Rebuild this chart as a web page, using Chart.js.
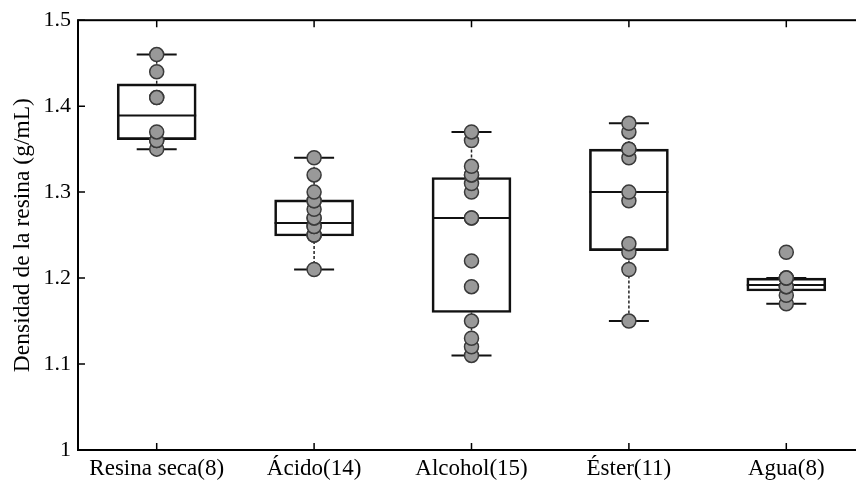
<!DOCTYPE html>
<html>
<head>
<meta charset="utf-8">
<script src="https://cdn.jsdelivr.net/npm/chart.js@4/dist/chart.umd.min.js"></script>
<style>
  html, body { margin: 0; padding: 0; background: #fff; overflow: hidden; }
  #wrap { position: relative; width: 856px; height: 483px; overflow: hidden; }
  #boxChart { position: absolute; left: 0; top: 0; }
</style>
</head>
<body>
<div id="wrap"><canvas id="boxChart" width="880" height="483"></canvas></div>
<script>
// groups and measured densities (g/mL)
var categories = ['Resina seca(8)', 'Ácido(14)', 'Alcohol(15)', 'Éster(11)', 'Agua(8)'];
var resinaSeca = [1.35, 1.36, 1.36, 1.37, 1.41, 1.41, 1.44, 1.46];
var acido = [1.21, 1.25, 1.25, 1.25, 1.26, 1.26, 1.27, 1.27, 1.28, 1.29, 1.29, 1.30, 1.32, 1.34];
var alcohol = [1.11, 1.12, 1.13, 1.15, 1.19, 1.22, 1.27, 1.27, 1.30, 1.31, 1.32, 1.32, 1.33, 1.36, 1.37];
var ester = [1.15, 1.21, 1.23, 1.24, 1.29, 1.30, 1.34, 1.35, 1.35, 1.37, 1.38];
var agua = [1.17, 1.18, 1.19, 1.19, 1.20, 1.20, 1.20, 1.23];

// box statistics per group
var q1 = [1.361, 1.249, 1.160, 1.232, 1.185];
var median = [1.389, 1.264, 1.270, 1.300, 1.192];
var q3 = [1.426, 1.291, 1.317, 1.350, 1.200];
var whiskerLow = [1.35, 1.21, 1.11, 1.15, 1.17];
var whiskerHigh = [1.46, 1.34, 1.37, 1.38, 1.20];

var yTicks = [1, 1.1, 1.2, 1.3, 1.4, 1.5];

var groups = [resinaSeca, acido, alcohol, ester, agua];
var serif = "'Liberation Serif', 'Times New Roman', serif";

var boxes = [], medians = [], caps = [], whiskers = [], points = [];
for (var i = 0; i < categories.length; i++) {
    boxes.push({ x: i, y: [q1[i], q3[i]] });
    medians.push({ x: i, y: median[i] });
    caps.push({ x: i, y: whiskerLow[i] });
    caps.push({ x: i, y: whiskerHigh[i] });
    whiskers.push({ x: i, y: q3[i] }, { x: i, y: whiskerHigh[i] }, { x: i, y: null });
    whiskers.push({ x: i, y: q1[i] }, { x: i, y: whiskerLow[i] }, { x: i, y: null });
    for (var j = 0; j < groups[i].length; j++) {
        points.push({ x: i, y: groups[i][j] });
    }
}

// frame around the plot with inward tick marks
var framePlugin = {
    id: 'frame',
    afterDraw: function(chart) {
        var ctx = chart.ctx;
        var a = chart.chartArea;
        var xs = chart.scales.x, ys = chart.scales.y;
        ctx.save();
        ctx.strokeStyle = '#000';
        ctx.lineWidth = 2;
        ctx.strokeRect(a.left, a.top, a.right - a.left, a.bottom - a.top);
        ctx.lineWidth = 1.5;
        ctx.beginPath();
        yTicks.forEach(function(v) {
            var py = ys.getPixelForValue(v);
            ctx.moveTo(a.left, py); ctx.lineTo(a.left + 7, py);
            ctx.moveTo(a.right, py); ctx.lineTo(a.right - 7, py);
        });
        categories.forEach(function(c, k) {
            var px = xs.getPixelForValue(k);
            ctx.moveTo(px, a.bottom); ctx.lineTo(px, a.bottom - 7);
            ctx.moveTo(px, a.top); ctx.lineTo(px, a.top + 7);
        });
        ctx.stroke();
        ctx.restore();
    }
};

var ctx = document.getElementById('boxChart').getContext('2d');
var myChart = new Chart(ctx, {
    type: 'bar',
    data: {
        datasets: [{
            type: 'scatter',
            data: points,
            backgroundColor: '#999999',
            borderColor: '#3a3a3a',
            borderWidth: 1.5,
            pointRadius: 7,
            order: 0
        }, {
            type: 'scatter',
            data: caps,
            pointStyle: 'line',
            pointRadius: 20,
            borderColor: '#111',
            borderWidth: 2,
            order: 1
        }, {
            type: 'scatter',
            data: medians,
            pointStyle: 'line',
            pointRadius: 39.5,
            borderColor: '#111',
            borderWidth: 2,
            order: 1
        }, {
            type: 'line',
            data: whiskers,
            borderColor: '#222',
            borderWidth: 1.5,
            borderDash: [3, 2],
            pointRadius: 0,
            spanGaps: false,
            order: 2
        }, {
            type: 'bar',
            data: boxes,
            backgroundColor: 'rgba(255,255,255,0)',
            borderColor: '#111',
            borderWidth: 2,
            borderSkipped: false,
            barThickness: 79,
            order: 3
        }]
    },
    options: {
        responsive: false,
        animation: false,
        devicePixelRatio: 1,
        layout: { autoPadding: false, padding: { top: 20, right: 15, left: 0, bottom: 0 } },
        plugins: {
            legend: { display: false },
            tooltip: { enabled: false }
        },
        scales: {
            x: {
                type: 'linear',
                min: -0.5,
                max: 4.5,
                offset: false,
                grid: { display: false, drawTicks: false },
                border: { display: false },
                afterBuildTicks: function(scale) {
                    scale.ticks = categories.map(function(c, k) { return { value: k }; });
                },
                afterFit: function(scale) { scale.height = 33; },
                ticks: {
                    autoSkip: false,
                    maxRotation: 0,
                    padding: 5,
                    color: '#000',
                    font: { family: serif, size: 23 },
                    callback: function(v) { return categories[v]; }
                }
            },
            y: {
                min: 1,
                max: 1.5,
                grid: { display: false, drawTicks: false },
                border: { display: false },
                afterBuildTicks: function(scale) {
                    scale.ticks = yTicks.map(function(v) { return { value: v }; });
                },
                afterFit: function(scale) { scale.width = 78; },
                ticks: {
                    padding: 7,
                    color: '#000',
                    font: { family: serif, size: 22 },
                    callback: function(v) { return String(Math.round(v * 10) / 10); }
                },
                title: {
                    display: true,
                    text: 'Densidad de la resina (g/mL)',
                    color: '#000',
                    font: { family: serif, size: 23.5 },
                    padding: { top: 9, bottom: 0 }
                }
            }
        }
    },
    plugins: [framePlugin]
});
</script>
</body>
</html>
